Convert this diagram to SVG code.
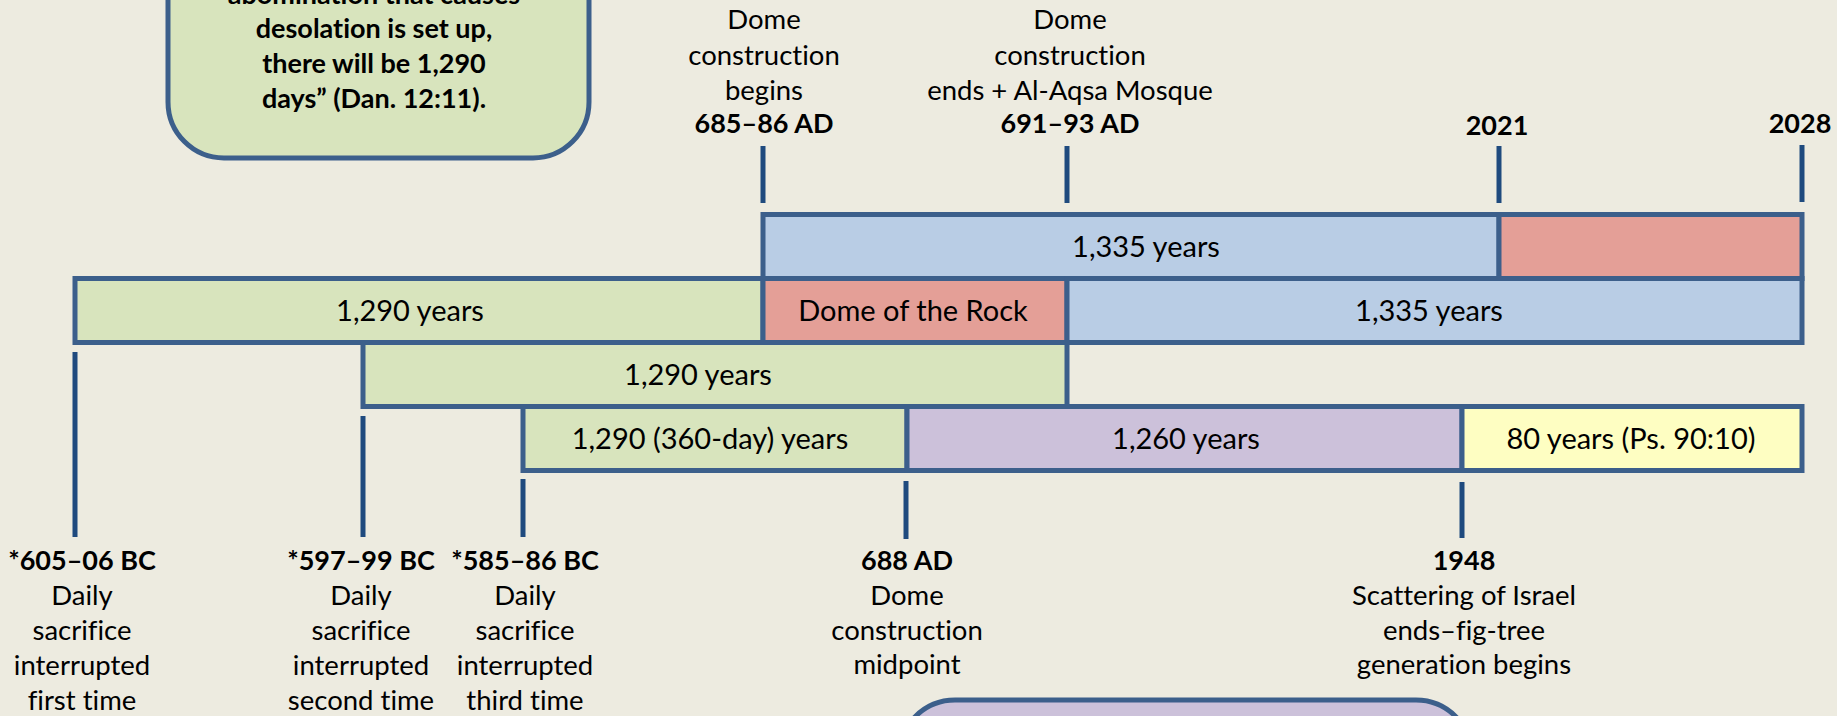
<svg xmlns="http://www.w3.org/2000/svg" width="1837" height="716" viewBox="0 0 1837 716">
<style>
.bg{fill:#EDEBE0}
.bar{stroke:#3C5F8B;stroke-width:5}
.g{fill:#D8E4BD}.r{fill:#E49F97}.b{fill:#B9CDE5}.p{fill:#CCC1DA}.y{fill:#FEFEC2}
.tick{stroke:#1F4A7E;stroke-width:5;fill:none}
text{font-family:Lato,"Open Sans","Liberation Sans",sans-serif;fill:#000;text-anchor:middle;font-variant-ligatures:none}
.lbl{font-size:27.5px}
.bl{font-size:27px;font-weight:bold}
.bt{font-size:29px}
</style>
<rect class="bg" x="0" y="0" width="1837" height="716"/>

<g id="quote-box">
<rect x="168" y="-80" width="421" height="238" rx="56" ry="56" fill="#D8E4BD" stroke="#3C5F8B" stroke-width="5"/>
<text class="bl" x="374" y="4">abomination that causes</text>
<text class="bl" x="374" y="38">desolation is set up,</text>
<text class="bl" x="374" y="73">there will be 1,290</text>
<text class="bl" x="374" y="108">days” (Dan. 12:11).</text>
</g>

<g id="bottom-box">
<rect x="899" y="700" width="573" height="120" rx="56" ry="56" fill="#CCC1DA" stroke="#3C5F8B" stroke-width="5"/>
</g>

<g id="connectors">
<line class="tick" x1="763" y1="146" x2="763" y2="203"/>
<line class="tick" x1="1067" y1="146" x2="1067" y2="203"/>
<line class="tick" x1="1499" y1="146" x2="1499" y2="203"/>
<line class="tick" x1="1802" y1="145" x2="1802" y2="202"/>
<line class="tick" x1="75" y1="352" x2="75" y2="537"/>
<line class="tick" x1="363" y1="416" x2="363" y2="537"/>
<line class="tick" x1="523" y1="479" x2="523" y2="537"/>
<line class="tick" x1="906" y1="481" x2="906" y2="539"/>
<line class="tick" x1="1462" y1="482" x2="1462" y2="538"/>
</g>

<g id="row1-1335">
<rect class="bar b" x="763" y="214.5" width="736" height="64"/>
<text class="bt" x="1146" y="257">1,335 years</text>
</g>
<g id="row1-red">
<rect class="bar r" x="1499" y="214.5" width="303" height="64"/>
</g>

<g id="row2-1290">
<rect class="bar g" x="75" y="278.5" width="688" height="64"/>
<text class="bt" x="410" y="321">1,290 years</text>
</g>
<g id="row2-dome">
<rect class="bar r" x="763" y="278.5" width="304" height="64"/>
<text class="bt" x="913" y="321">Dome of the Rock</text>
</g>
<g id="row2-1335">
<rect class="bar b" x="1067" y="278.5" width="735" height="64"/>
<text class="bt" x="1429" y="321">1,335 years</text>
</g>

<g id="row3-1290">
<rect class="bar g" x="363" y="342.5" width="704" height="64"/>
<text class="bt" x="698" y="385">1,290 years</text>
</g>

<g id="row4-1290-360">
<rect class="bar g" x="523" y="406.5" width="384" height="64"/>
<text class="bt" x="710" y="449">1,290 (360-day) years</text>
</g>
<g id="row4-1260">
<rect class="bar p" x="907" y="406.5" width="555" height="64"/>
<text class="bt" x="1186" y="449">1,260 years</text>
</g>
<g id="row4-80">
<rect class="bar y" x="1462" y="406.5" width="340" height="64"/>
<text class="bt" x="1631" y="449">80 years (Ps. 90:10)</text>
</g>

<g id="label-685">
<text class="lbl" x="764" y="29">Dome</text>
<text class="lbl" x="764" y="65">construction</text>
<text class="lbl" x="764" y="100">begins</text>
<text class="bl" x="764" y="133">685–86 AD</text>
</g>
<g id="label-691">
<text class="lbl" x="1070" y="29">Dome</text>
<text class="lbl" x="1070" y="65">construction</text>
<text class="lbl" x="1070" y="100">ends + Al-Aqsa Mosque</text>
<text class="bl" x="1070" y="133">691–93 AD</text>
</g>
<g id="label-2021"><text class="bl" x="1497" y="135">2021</text></g>
<g id="label-2028"><text class="bl" x="1800" y="133">2028</text></g>

<g id="label-605">
<text class="bl" x="82" y="570">*605–06 BC</text>
<text class="lbl" x="82" y="605">Daily</text>
<text class="lbl" x="82" y="640">sacrifice</text>
<text class="lbl" x="82" y="675">interrupted</text>
<text class="lbl" x="82" y="710">first time</text>
</g>
<g id="label-597">
<text class="bl" x="361" y="570">*597–99 BC</text>
<text class="lbl" x="361" y="605">Daily</text>
<text class="lbl" x="361" y="640">sacrifice</text>
<text class="lbl" x="361" y="675">interrupted</text>
<text class="lbl" x="361" y="710">second time</text>
</g>
<g id="label-585">
<text class="bl" x="525" y="570">*585–86 BC</text>
<text class="lbl" x="525" y="605">Daily</text>
<text class="lbl" x="525" y="640">sacrifice</text>
<text class="lbl" x="525" y="675">interrupted</text>
<text class="lbl" x="525" y="710">third time</text>
</g>
<g id="label-688">
<text class="bl" x="907" y="570">688 AD</text>
<text class="lbl" x="907" y="605">Dome</text>
<text class="lbl" x="907" y="640">construction</text>
<text class="lbl" x="907" y="674">midpoint</text>
</g>
<g id="label-1948">
<text class="bl" x="1464" y="570">1948</text>
<text class="lbl" x="1464" y="605">Scattering of Israel</text>
<text class="lbl" x="1464" y="640">ends–fig-tree</text>
<text class="lbl" x="1464" y="674">generation begins</text>
</g>
</svg>
